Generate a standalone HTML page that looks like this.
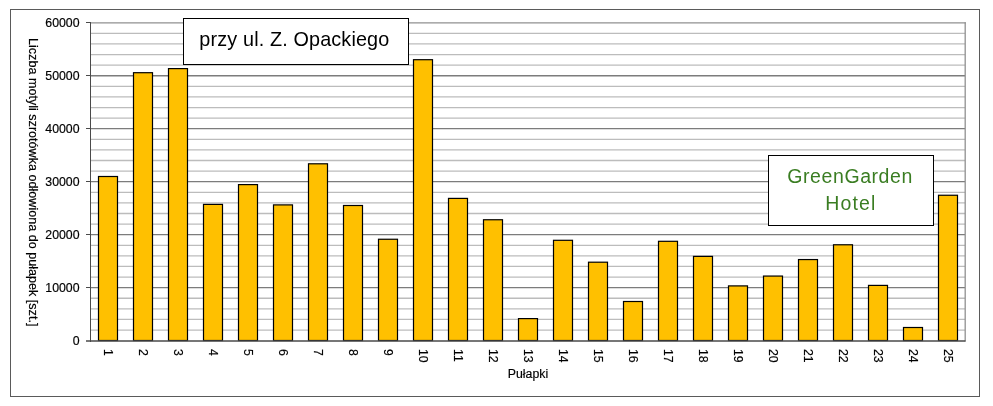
<!DOCTYPE html>
<html><head><meta charset="utf-8"><style>
html,body{margin:0;padding:0;background:#fff;}
body{width:993px;height:406px;overflow:hidden;}
svg{display:block;will-change:transform;}
.t{stroke:#000;stroke-width:0.18px;}
</style></head><body>
<svg width="993" height="406" viewBox="0 0 993 406">
<rect x="10.5" y="9.5" width="969" height="387" fill="none" stroke="#5a5a5a" stroke-width="1"/>
<line x1="90" y1="330.04" x2="965" y2="330.04" stroke="#bcbcbc" stroke-width="1.3"/>
<line x1="90" y1="319.45" x2="965" y2="319.45" stroke="#bcbcbc" stroke-width="1.3"/>
<line x1="90" y1="308.85" x2="965" y2="308.85" stroke="#bcbcbc" stroke-width="1.3"/>
<line x1="90" y1="298.26" x2="965" y2="298.26" stroke="#bcbcbc" stroke-width="1.3"/>
<line x1="90" y1="277.06" x2="965" y2="277.06" stroke="#bcbcbc" stroke-width="1.3"/>
<line x1="90" y1="266.47" x2="965" y2="266.47" stroke="#bcbcbc" stroke-width="1.3"/>
<line x1="90" y1="255.87" x2="965" y2="255.87" stroke="#bcbcbc" stroke-width="1.3"/>
<line x1="90" y1="245.28" x2="965" y2="245.28" stroke="#bcbcbc" stroke-width="1.3"/>
<line x1="90" y1="224.08" x2="965" y2="224.08" stroke="#bcbcbc" stroke-width="1.3"/>
<line x1="90" y1="213.49" x2="965" y2="213.49" stroke="#bcbcbc" stroke-width="1.3"/>
<line x1="90" y1="202.89" x2="965" y2="202.89" stroke="#bcbcbc" stroke-width="1.3"/>
<line x1="90" y1="192.30" x2="965" y2="192.30" stroke="#bcbcbc" stroke-width="1.3"/>
<line x1="90" y1="171.10" x2="965" y2="171.10" stroke="#bcbcbc" stroke-width="1.3"/>
<line x1="90" y1="160.51" x2="965" y2="160.51" stroke="#bcbcbc" stroke-width="1.3"/>
<line x1="90" y1="149.91" x2="965" y2="149.91" stroke="#bcbcbc" stroke-width="1.3"/>
<line x1="90" y1="139.32" x2="965" y2="139.32" stroke="#bcbcbc" stroke-width="1.3"/>
<line x1="90" y1="118.12" x2="965" y2="118.12" stroke="#bcbcbc" stroke-width="1.3"/>
<line x1="90" y1="107.53" x2="965" y2="107.53" stroke="#bcbcbc" stroke-width="1.3"/>
<line x1="90" y1="96.93" x2="965" y2="96.93" stroke="#bcbcbc" stroke-width="1.3"/>
<line x1="90" y1="86.34" x2="965" y2="86.34" stroke="#bcbcbc" stroke-width="1.3"/>
<line x1="90" y1="65.14" x2="965" y2="65.14" stroke="#bcbcbc" stroke-width="1.3"/>
<line x1="90" y1="54.55" x2="965" y2="54.55" stroke="#bcbcbc" stroke-width="1.3"/>
<line x1="90" y1="43.95" x2="965" y2="43.95" stroke="#bcbcbc" stroke-width="1.3"/>
<line x1="90" y1="33.36" x2="965" y2="33.36" stroke="#bcbcbc" stroke-width="1.3"/>
<line x1="90" y1="287.66" x2="965" y2="287.66" stroke="#7c7c7c" stroke-width="1.3"/>
<line x1="90" y1="234.68" x2="965" y2="234.68" stroke="#7c7c7c" stroke-width="1.3"/>
<line x1="90" y1="181.70" x2="965" y2="181.70" stroke="#7c7c7c" stroke-width="1.3"/>
<line x1="90" y1="128.72" x2="965" y2="128.72" stroke="#7c7c7c" stroke-width="1.3"/>
<line x1="90" y1="75.74" x2="965" y2="75.74" stroke="#7c7c7c" stroke-width="1.3"/>
<line x1="90" y1="22.8" x2="965.8" y2="22.8" stroke="#909090" stroke-width="1.3"/>
<line x1="965.2" y1="22.15" x2="965.2" y2="341.5" stroke="#909090" stroke-width="1.3"/>
<rect x="98.5" y="176.50" width="19" height="164.00" fill="#FFC000" stroke="#000" stroke-width="1.2"/>
<rect x="133.5" y="72.70" width="19" height="267.80" fill="#FFC000" stroke="#000" stroke-width="1.2"/>
<rect x="168.5" y="68.60" width="19" height="271.90" fill="#FFC000" stroke="#000" stroke-width="1.2"/>
<rect x="203.5" y="204.40" width="19" height="136.10" fill="#FFC000" stroke="#000" stroke-width="1.2"/>
<rect x="238.5" y="184.60" width="19" height="155.90" fill="#FFC000" stroke="#000" stroke-width="1.2"/>
<rect x="273.5" y="204.90" width="19" height="135.60" fill="#FFC000" stroke="#000" stroke-width="1.2"/>
<rect x="308.5" y="163.80" width="19" height="176.70" fill="#FFC000" stroke="#000" stroke-width="1.2"/>
<rect x="343.5" y="205.50" width="19" height="135.00" fill="#FFC000" stroke="#000" stroke-width="1.2"/>
<rect x="378.5" y="239.25" width="19" height="101.25" fill="#FFC000" stroke="#000" stroke-width="1.2"/>
<rect x="413.5" y="59.70" width="19" height="280.80" fill="#FFC000" stroke="#000" stroke-width="1.2"/>
<rect x="448.5" y="198.40" width="19" height="142.10" fill="#FFC000" stroke="#000" stroke-width="1.2"/>
<rect x="483.5" y="219.75" width="19" height="120.75" fill="#FFC000" stroke="#000" stroke-width="1.2"/>
<rect x="518.5" y="318.60" width="19" height="21.90" fill="#FFC000" stroke="#000" stroke-width="1.2"/>
<rect x="553.5" y="240.30" width="19" height="100.20" fill="#FFC000" stroke="#000" stroke-width="1.2"/>
<rect x="588.5" y="262.20" width="19" height="78.30" fill="#FFC000" stroke="#000" stroke-width="1.2"/>
<rect x="623.5" y="301.50" width="19" height="39.00" fill="#FFC000" stroke="#000" stroke-width="1.2"/>
<rect x="658.5" y="241.30" width="19" height="99.20" fill="#FFC000" stroke="#000" stroke-width="1.2"/>
<rect x="693.5" y="256.40" width="19" height="84.10" fill="#FFC000" stroke="#000" stroke-width="1.2"/>
<rect x="728.5" y="285.90" width="19" height="54.60" fill="#FFC000" stroke="#000" stroke-width="1.2"/>
<rect x="763.5" y="276.06" width="19" height="64.44" fill="#FFC000" stroke="#000" stroke-width="1.2"/>
<rect x="798.5" y="259.56" width="19" height="80.94" fill="#FFC000" stroke="#000" stroke-width="1.2"/>
<rect x="833.5" y="244.78" width="19" height="95.72" fill="#FFC000" stroke="#000" stroke-width="1.2"/>
<rect x="868.5" y="285.40" width="19" height="55.10" fill="#FFC000" stroke="#000" stroke-width="1.2"/>
<rect x="903.5" y="327.50" width="19" height="13.00" fill="#FFC000" stroke="#000" stroke-width="1.2"/>
<rect x="938.5" y="195.25" width="19" height="145.25" fill="#FFC000" stroke="#000" stroke-width="1.2"/>
<line x1="90.5" y1="22.0" x2="90.5" y2="342" stroke="#4a4a4a" stroke-width="1"/>
<line x1="86" y1="341" x2="965.5" y2="341" stroke="#4a4a4a" stroke-width="1.4"/>
<text x="79.5" y="344.94" text-anchor="end" font-size="12.3" class="t" font-family='"Liberation Sans", sans-serif' fill="#000">0</text>
<line x1="86" y1="287.5" x2="90.5" y2="287.5" stroke="#4a4a4a" stroke-width="1"/>
<text x="79.5" y="291.96" text-anchor="end" font-size="12.3" class="t" font-family='"Liberation Sans", sans-serif' fill="#000">10000</text>
<line x1="86" y1="234.5" x2="90.5" y2="234.5" stroke="#4a4a4a" stroke-width="1"/>
<text x="79.5" y="238.98" text-anchor="end" font-size="12.3" class="t" font-family='"Liberation Sans", sans-serif' fill="#000">20000</text>
<line x1="86" y1="181.5" x2="90.5" y2="181.5" stroke="#4a4a4a" stroke-width="1"/>
<text x="79.5" y="186.00" text-anchor="end" font-size="12.3" class="t" font-family='"Liberation Sans", sans-serif' fill="#000">30000</text>
<line x1="86" y1="128.5" x2="90.5" y2="128.5" stroke="#4a4a4a" stroke-width="1"/>
<text x="79.5" y="133.02" text-anchor="end" font-size="12.3" class="t" font-family='"Liberation Sans", sans-serif' fill="#000">40000</text>
<line x1="86" y1="75.5" x2="90.5" y2="75.5" stroke="#4a4a4a" stroke-width="1"/>
<text x="79.5" y="80.04" text-anchor="end" font-size="12.3" class="t" font-family='"Liberation Sans", sans-serif' fill="#000">50000</text>
<line x1="86" y1="22.5" x2="90.5" y2="22.5" stroke="#4a4a4a" stroke-width="1"/>
<text x="79.5" y="27.06" text-anchor="end" font-size="12.3" class="t" font-family='"Liberation Sans", sans-serif' fill="#000">60000</text>
<text transform="translate(104.20,349) rotate(90)" font-size="12.3" class="t" font-family='"Liberation Sans", sans-serif' fill="#000">1</text>
<text transform="translate(139.20,349) rotate(90)" font-size="12.3" class="t" font-family='"Liberation Sans", sans-serif' fill="#000">2</text>
<text transform="translate(174.20,349) rotate(90)" font-size="12.3" class="t" font-family='"Liberation Sans", sans-serif' fill="#000">3</text>
<text transform="translate(209.20,349) rotate(90)" font-size="12.3" class="t" font-family='"Liberation Sans", sans-serif' fill="#000">4</text>
<text transform="translate(244.20,349) rotate(90)" font-size="12.3" class="t" font-family='"Liberation Sans", sans-serif' fill="#000">5</text>
<text transform="translate(279.20,349) rotate(90)" font-size="12.3" class="t" font-family='"Liberation Sans", sans-serif' fill="#000">6</text>
<text transform="translate(314.20,349) rotate(90)" font-size="12.3" class="t" font-family='"Liberation Sans", sans-serif' fill="#000">7</text>
<text transform="translate(349.20,349) rotate(90)" font-size="12.3" class="t" font-family='"Liberation Sans", sans-serif' fill="#000">8</text>
<text transform="translate(384.20,349) rotate(90)" font-size="12.3" class="t" font-family='"Liberation Sans", sans-serif' fill="#000">9</text>
<text transform="translate(419.20,349) rotate(90)" font-size="12.3" class="t" font-family='"Liberation Sans", sans-serif' fill="#000">10</text>
<text transform="translate(454.20,349) rotate(90)" font-size="12.3" class="t" font-family='"Liberation Sans", sans-serif' fill="#000">11</text>
<text transform="translate(489.20,349) rotate(90)" font-size="12.3" class="t" font-family='"Liberation Sans", sans-serif' fill="#000">12</text>
<text transform="translate(524.20,349) rotate(90)" font-size="12.3" class="t" font-family='"Liberation Sans", sans-serif' fill="#000">13</text>
<text transform="translate(559.20,349) rotate(90)" font-size="12.3" class="t" font-family='"Liberation Sans", sans-serif' fill="#000">14</text>
<text transform="translate(594.20,349) rotate(90)" font-size="12.3" class="t" font-family='"Liberation Sans", sans-serif' fill="#000">15</text>
<text transform="translate(629.20,349) rotate(90)" font-size="12.3" class="t" font-family='"Liberation Sans", sans-serif' fill="#000">16</text>
<text transform="translate(664.20,349) rotate(90)" font-size="12.3" class="t" font-family='"Liberation Sans", sans-serif' fill="#000">17</text>
<text transform="translate(699.20,349) rotate(90)" font-size="12.3" class="t" font-family='"Liberation Sans", sans-serif' fill="#000">18</text>
<text transform="translate(734.20,349) rotate(90)" font-size="12.3" class="t" font-family='"Liberation Sans", sans-serif' fill="#000">19</text>
<text transform="translate(769.20,349) rotate(90)" font-size="12.3" class="t" font-family='"Liberation Sans", sans-serif' fill="#000">20</text>
<text transform="translate(804.20,349) rotate(90)" font-size="12.3" class="t" font-family='"Liberation Sans", sans-serif' fill="#000">21</text>
<text transform="translate(839.20,349) rotate(90)" font-size="12.3" class="t" font-family='"Liberation Sans", sans-serif' fill="#000">22</text>
<text transform="translate(874.20,349) rotate(90)" font-size="12.3" class="t" font-family='"Liberation Sans", sans-serif' fill="#000">23</text>
<text transform="translate(909.20,349) rotate(90)" font-size="12.3" class="t" font-family='"Liberation Sans", sans-serif' fill="#000">24</text>
<text transform="translate(944.20,349) rotate(90)" font-size="12.3" class="t" font-family='"Liberation Sans", sans-serif' fill="#000">25</text>
<text x="528" y="378" text-anchor="middle" font-size="12.3" class="t" font-family='"Liberation Sans", sans-serif' fill="#000">Pułapki</text>
<text transform="translate(29,182.2) rotate(90)" text-anchor="middle" font-size="12.6" class="t" font-family='"Liberation Sans", sans-serif' fill="#000">Liczba motyli szrotówka odłowiona do pułapek [szt.]</text>
<rect x="183.5" y="18.5" width="225" height="46" fill="#fff" stroke="#000" stroke-width="1"/>
<text x="294.4" y="45.8" text-anchor="middle" font-size="19.8" letter-spacing="0.15" font-family='"Liberation Sans", sans-serif' fill="#000">przy ul. Z. Opackiego</text>
<rect x="768.5" y="155.5" width="165" height="70" fill="#fff" stroke="#000" stroke-width="1"/>
<text x="850.1" y="182.9" text-anchor="middle" font-size="19.5" letter-spacing="0.58" font-family='"Liberation Sans", sans-serif' fill="#3a7d22">GreenGarden</text>
<text x="850.9" y="209.6" text-anchor="middle" font-size="19.5" letter-spacing="1.17" font-family='"Liberation Sans", sans-serif' fill="#3a7d22">Hotel</text>
</svg>
</body></html>
